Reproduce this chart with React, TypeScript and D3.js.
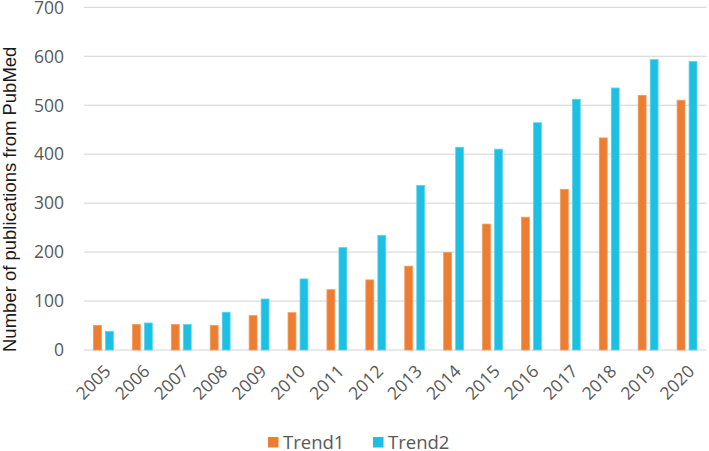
import React from "react";
import * as d3 from "d3";

const years = ["2005","2006","2007","2008","2009","2010","2011","2012","2013","2014","2015","2016","2017","2018","2019","2020"];
const trend1 = [51, 53, 53, 51, 71, 77, 124, 144, 172, 200, 258, 272, 329, 434, 521, 511];
const trend2 = [39, 56, 53, 78, 105, 146, 210, 235, 337, 415, 411, 465, 513, 536, 594, 590];
const seriesNames = ["Trend1", "Trend2"];
const seriesColors = ["#ED7D31", "#1CC0E3"];
const seriesEdges = ["#F29A5E", "#5FD2EC"];
const yTicks = [0, 100, 200, 300, 400, 500, 600, 700];

const W = 709, H = 451;
const left = 84, right = 706.5, top = 7.3, bottom = 350;

export default function App() {
  const x0 = d3.scaleBand<string>().domain(years).range([left, right]).paddingInner(0).paddingOuter(0);
  const x1 = d3.scaleBand<string>().domain(seriesNames).range([0, x0.bandwidth()]).paddingInner(0.275).paddingOuter(0.76);
  const y = d3.scaleLinear().domain([0, 700]).range([bottom, top]);
  const data = [trend1, trend2];
  const tickFont = "'Open Sans', sans-serif";
  const legendX = [268, 373];
  return (
    <svg width={W} height={H} style={{ position: "absolute", left: 0, top: 0, background: "#fff" }}>
      <rect width={W} height={H} fill="#fff" />
      {yTicks.map(t => (
        <g key={t}>
          <line x1={left} x2={right} y1={y(t)} y2={y(t)} stroke="#D2D2D2" strokeWidth={1} />
          <text x={64} y={y(t)} dy="0.36em" textAnchor="end" fontFamily={tickFont} fontSize={17.5} fill="#595959">{t}</text>
        </g>
      ))}
      {years.map((yr, i) => (
        <g key={yr} transform={`translate(${x0(yr)},0)`}>
          {seriesNames.map((s, j) => (
            <rect key={s} x={(x1(s) as number) + 0.4} y={y(data[j][i]) + 0.4} width={x1.bandwidth() - 0.8} height={bottom - y(data[j][i]) - 0.4} fill={seriesColors[j]} stroke={seriesEdges[j]} strokeWidth={0.8} />
          ))}
        </g>
      ))}
      {years.map(yr => {
        const cx = (x0(yr) as number) + x0.bandwidth() / 2 + 4;
        return (
          <text key={yr} transform={`translate(${cx},${368}) rotate(-45)`} textAnchor="end" dy="0.36em" fontFamily={tickFont} fontSize={17.5} fill="#595959">{yr}</text>
        );
      })}
      <text transform={`translate(16,352) rotate(-90)`} textAnchor="start" fontFamily="'Liberation Sans', Arial, sans-serif" fontSize={18.5} fill="#1a1a1a">Number of publications from PubMed</text>
      {seriesNames.map((s, j) => (
        <g key={s}>
          <rect x={legendX[j]} y={437} width={10.5} height={10.5} fill={seriesColors[j]} />
          <text x={legendX[j] + 15} y={448.5} fontFamily={tickFont} fontSize={18.5} fill="#595959">{s}</text>
        </g>
      ))}
    </svg>
  );
}
